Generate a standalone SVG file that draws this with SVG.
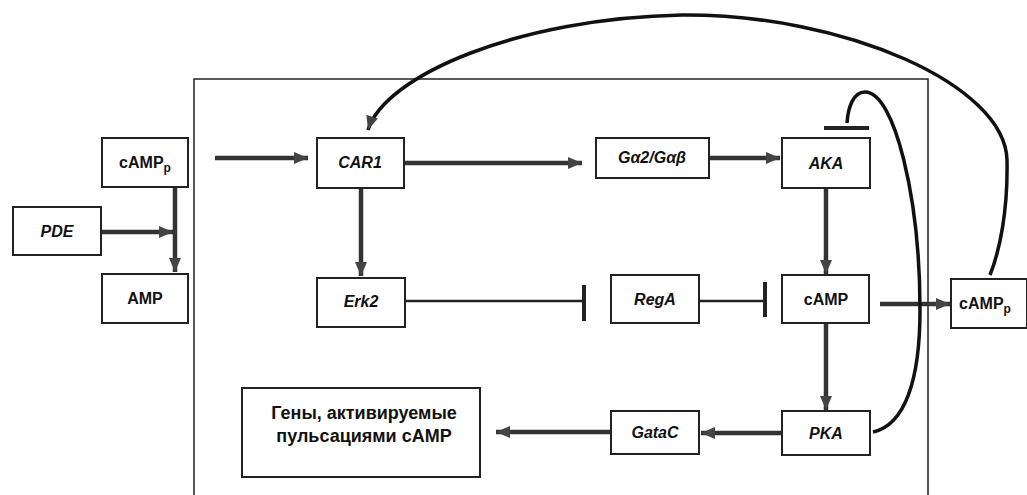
<svg xmlns="http://www.w3.org/2000/svg" width="1027" height="495" viewBox="0 0 1027 495">
<style>
.box{fill:#fff;stroke:#222;stroke-width:2}
.lbl{font-family:"Liberation Sans",Arial,sans-serif;font-weight:bold;font-size:16px;fill:#111;text-anchor:middle}
.big{font-size:18px}
.sub{font-size:12px}
.it{font-style:italic}
.arr{stroke:#333;stroke-width:4.5;fill:none}
.inh{stroke:#222;stroke-width:2.5;fill:none}
.bar{stroke:#222;stroke-width:4;fill:none}
.crv{stroke:#111;stroke-width:3.5;fill:none}
</style>
<defs>
<marker id="ah" markerUnits="userSpaceOnUse" markerWidth="16" markerHeight="14" refX="14" refY="7" orient="auto">
<path d="M0,1 L14,7 L0,13 Z" fill="#444"/>
</marker>
</defs>
<rect x="194" y="79" width="734" height="430" fill="none" stroke="#222" stroke-width="1.5"/>
<g id="connectors">
<line class="arr" x1="175" y1="187" x2="175" y2="272" marker-end="url(#ah)"/>
<line class="arr" x1="101" y1="232" x2="173" y2="232" marker-end="url(#ah)"/>
<line class="arr" x1="215" y1="158" x2="308" y2="158" marker-end="url(#ah)"/>
<line class="arr" x1="404" y1="163" x2="582" y2="163" marker-end="url(#ah)"/>
<line class="arr" x1="709" y1="158" x2="780" y2="158" marker-end="url(#ah)"/>
<line class="arr" x1="361" y1="188" x2="361" y2="276" marker-end="url(#ah)"/>
<line class="arr" x1="826" y1="188" x2="826" y2="274" marker-end="url(#ah)"/>
<line class="arr" x1="826" y1="323" x2="826" y2="410" marker-end="url(#ah)"/>
<line class="arr" x1="880" y1="304" x2="950" y2="304" marker-end="url(#ah)"/>
<line class="arr" x1="782" y1="433" x2="701" y2="433" marker-end="url(#ah)"/>
<line class="arr" x1="611" y1="432" x2="496" y2="432" marker-end="url(#ah)"/>
<line class="inh" x1="405" y1="301" x2="584" y2="301"/>
<line class="bar" x1="584" y1="285" x2="584" y2="321"/>
<line class="inh" x1="699" y1="301" x2="765" y2="301"/>
<line class="bar" x1="765" y1="282" x2="765" y2="317"/>
<line class="bar" x1="824" y1="128" x2="869" y2="128"/>
<path class="crv" d="M873,432 C905,425 920,380 920,310 C920,200 895,92 865,92 C853,92 848,108 847,123"/>
<path class="crv" d="M990,275 C1000,250 1008,210 1007,160 C1005,85 845,14 682,15 C520,18 385,75 368,130" marker-end="url(#ah)"/>
</g>
<g id="n_campp_left"><rect class="box" x="102" y="138" width="86" height="49"/><text class="lbl" x="145" y="168">cAMP<tspan class="sub" dy="4">p</tspan></text></g>
<g id="n_pde"><rect class="box" x="13" y="207" width="88" height="48"/><text class="lbl it" x="57" y="237">PDE</text></g>
<g id="n_amp"><rect class="box" x="102" y="274" width="86" height="49"/><text class="lbl" x="145" y="304">AMP</text></g>
<g id="n_car1"><rect class="box" x="317" y="138" width="87" height="50"/><text class="lbl it" x="360" y="168">CAR1</text></g>
<g id="n_galpha"><rect class="box" x="596" y="138" width="113" height="40"/><text class="lbl it" x="652" y="163">Gα2/Gαβ</text></g>
<g id="n_aka"><rect class="box" x="782" y="138" width="88" height="50"/><text class="lbl it" x="826" y="169">AKA</text></g>
<g id="n_erk2"><rect class="box" x="317" y="278" width="88" height="49"/><text class="lbl it" x="361" y="307">Erk2</text></g>
<g id="n_rega"><rect class="box" x="611" y="275" width="88" height="48"/><text class="lbl it" x="655" y="305">RegA</text></g>
<g id="n_camp"><rect class="box" x="782" y="275" width="87" height="48"/><text class="lbl" x="826" y="305">cAMP</text></g>
<g id="n_campp_right"><rect class="box" x="951" y="279" width="76" height="49"/><text class="lbl" x="985" y="309">cAMP<tspan class="sub" dy="4">p</tspan></text></g>
<g id="n_pka"><rect class="box" x="782" y="411" width="88" height="44"/><text class="lbl it" x="826" y="439">PKA</text></g>
<g id="n_gatac"><rect class="box" x="611" y="411" width="88" height="43"/><text class="lbl it" x="655" y="438">GataC</text></g>
<g id="n_genes"><rect class="box" x="242" y="388" width="238" height="89"/><text class="lbl big" x="364" y="419">Гены, активируемые</text><text class="lbl big" x="364" y="442">пульсациями cAMP</text></g>
</svg>
